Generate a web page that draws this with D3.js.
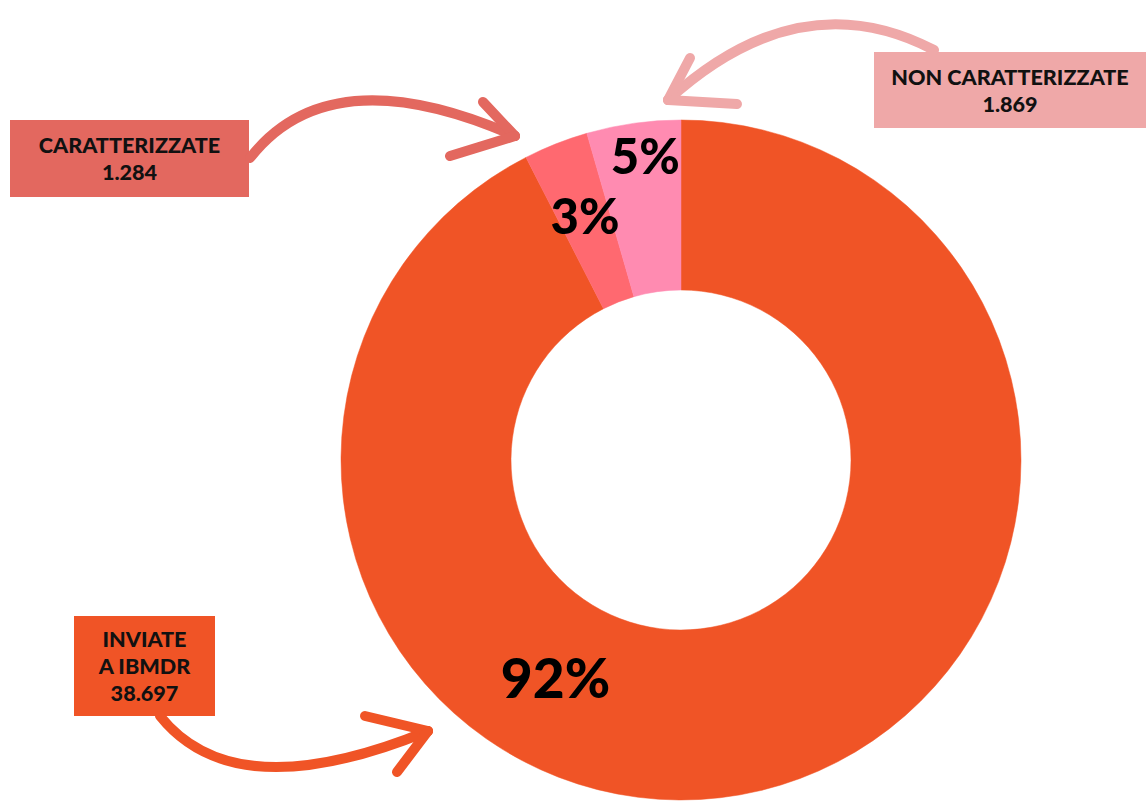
<!DOCTYPE html>
<html><head><meta charset="utf-8">
<script src="https://cdn.jsdelivr.net/npm/d3@7"></script>
<style>html,body{margin:0;padding:0;background:#fff;}svg{display:block;}</style>
</head><body>
<svg id="chart" width="1146" height="801"></svg>
<script>
// ---- data ----
const categories = ["INVIATE A IBMDR", "CARATTERIZZATE", "NON CARATTERIZZATE"];
const values = [38697, 1284, 1869];
const valueLabels = ["38.697", "1.284", "1.869"];
const pctLabels = ["92%", "3%", "5%"];
const sliceColors = ["#F05426", "#FF6970", "#FF8BB1"];
const boxColors = ["#F05426", "#E3685F", "#EFA8A8"];
const boxLines = [["INVIATE", "A IBMDR", "38.697"], ["CARATTERIZZATE", "1.284"], ["NON CARATTERIZZATE", "1.869"]];

// ---- layout ----
const W = 1146, H = 801;
const cx = 681, cy = 460, R = 340, r0 = 170;
const svg = d3.select("#chart");

const pie = d3.pie().sort(null).value(d => d)(values);
const arc = d3.arc().innerRadius(r0).outerRadius(R);

const g = svg.append("g").attr("transform", `translate(${cx},${cy})`);
g.selectAll("path.slice").data(pie).join("path")
  .attr("class", "slice")
  .attr("d", arc)
  .attr("fill", (d, i) => sliceColors[i])
  .attr("stroke", (d, i) => sliceColors[i])
  .attr("stroke-width", 0.5);

// percentage label placement (angle in degrees clockwise from top, radius)
const pctPlace = [{a: 210, r: 251}, {a: -21.4, r: 263}, {a: -6.7, r: 307}];
const pctSize = [55, 49, 49];
g.selectAll("text.pct").data(pctLabels).join("text")
  .attr("class", "pct")
  .attr("x", (d, i) => pctPlace[i].r * Math.sin(pctPlace[i].a * Math.PI / 180))
  .attr("y", (d, i) => -pctPlace[i].r * Math.cos(pctPlace[i].a * Math.PI / 180))
  .attr("text-anchor", "middle")
  .attr("dominant-baseline", "central")
  .attr("font-family", "Lato, 'Noto Sans', sans-serif")
  .attr("font-weight", 900)
  .attr("font-size", (d, i) => pctSize[i])
  .attr("fill", "#000")
  .text(d => d);

// label boxes
const boxes = [
  {x: 74, y: 616, w: 141, h: 100},
  {x: 10, y: 120, w: 239, h: 77},
  {x: 874, y: 52, w: 272, h: 76}
];
const lineH = 27;
boxes.forEach((b, i) => {
  svg.append("rect").attr("x", b.x).attr("y", b.y).attr("width", b.w).attr("height", b.h)
    .attr("fill", boxColors[i]);
  const lines = boxLines[i];
  const startY = b.y + b.h / 2 - (lines.length - 1) * lineH / 2;
  lines.forEach((t, j) => {
    svg.append("text")
      .attr("x", b.x + b.w / 2)
      .attr("y", startY + j * lineH)
      .attr("text-anchor", "middle")
      .attr("dominant-baseline", "central")
      .attr("font-family", "Lato, 'Open Sans', sans-serif")
      .attr("font-weight", 900)
      .attr("font-size", 21.6)
      .attr("fill", "#111")
      .text(t);
  });
});

// hand-drawn style arrows
const arrows = [
  {color: "#F05426", curve: "M160,716 Q235,810 428,731", arms: ["M428,731 L365,716", "M428,731 L397,772"]},
  {color: "#E3685F", curve: "M250,158 Q330,55 515,136", arms: ["M515,136 L483,102", "M515,136 L450,156"]},
  {color: "#EFA8A8", curve: "M934,50 Q800,-20 668,100", arms: ["M668,100 L690,58", "M668,100 L737,104"]}
];
arrows.forEach(a => {
  svg.append("path").attr("d", a.curve).attr("fill", "none")
    .attr("stroke", a.color).attr("stroke-width", 10).attr("stroke-linecap", "round");
  a.arms.forEach(p => svg.append("path").attr("d", p).attr("fill", "none")
    .attr("stroke", a.color).attr("stroke-width", 10).attr("stroke-linecap", "round"));
});
</script>
</body></html>
